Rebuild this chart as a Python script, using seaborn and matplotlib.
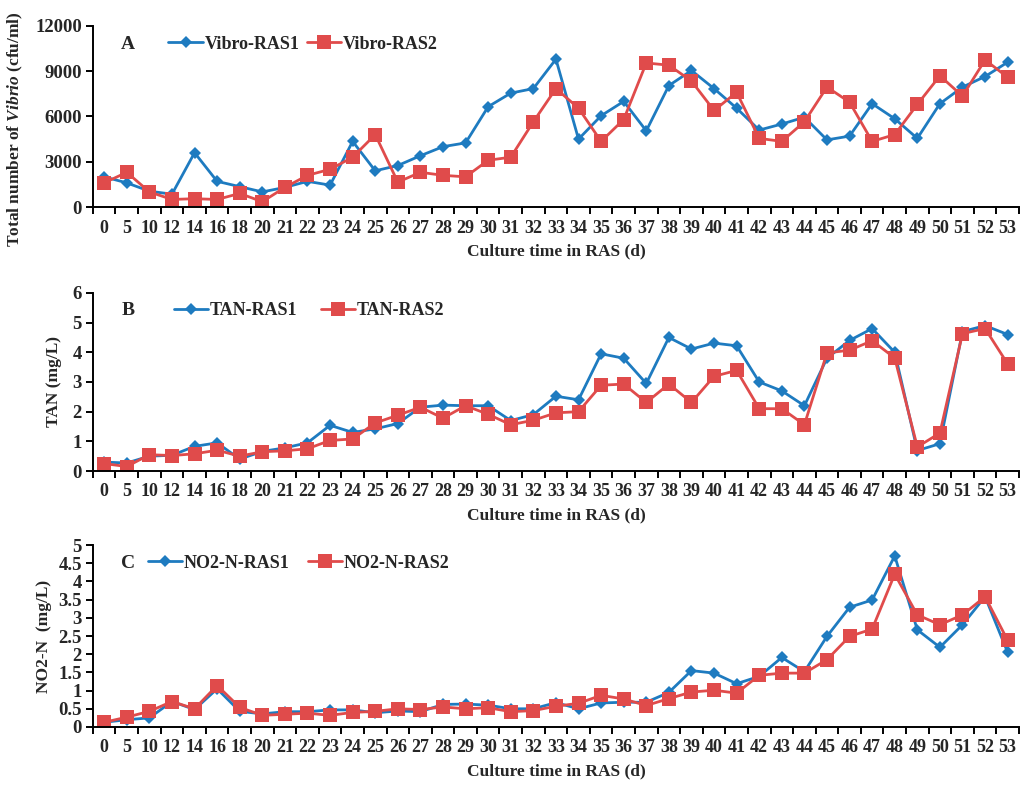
import numpy as np
import pandas as pd
import matplotlib
matplotlib.use("Agg")
import matplotlib.pyplot as plt
from matplotlib.ticker import FixedLocator, FuncFormatter
import seaborn as sns

# Sampling days (categorical axis)
days = ["0", "5", "10", "12", "14", "16", "18", "20", "21", "22", "23", "24", "25",
        "26", "27", "28", "29", "30", "31", "32", "33", "34", "35", "36", "37", "38",
        "39", "40", "41", "42", "43", "44", "45", "46", "47", "48", "49", "50", "51",
        "52", "53"]

# Total Vibrio counts (cfu/ml)
vibrio_ras1 = [2000, 1600, 1050, 850, 3600, 1700, 1350, 1000, 1300, 1700, 1450, 4350,
               2400, 2750, 3400, 4000, 4250, 6650, 7550, 7850, 9800, 4500, 6050, 7000,
               5050, 8050, 9050, 7850, 6550, 5100, 5500, 5950, 4450, 4700, 6850, 5850,
               4550, 6850, 7950, 8650, 9600]
vibrio_ras2 = [1600, 2300, 1000, 500, 550, 500, 900, 350, 1300, 2100, 2500, 3300,
               4800, 1650, 2300, 2100, 2000, 3100, 3300, 5650, 7850, 6550, 4350, 5800,
               9550, 9400, 8350, 6400, 7600, 4550, 4350, 5650, 7950, 6950, 4350, 4800,
               6800, 8700, 7350, 9750, 8600]

# Total ammonia nitrogen (mg/L)
tan_ras1 = [0.30, 0.27, 0.50, 0.53, 0.83, 0.95, 0.40, 0.66, 0.78, 0.95, 1.54, 1.30,
            1.42, 1.60, 2.15, 2.22, 2.20, 2.20, 1.70, 1.90, 2.52, 2.40, 3.95, 3.80,
            2.95, 4.50, 4.11, 4.31, 4.22, 3.00, 2.70, 2.20, 3.80, 4.40, 4.80, 4.00,
            0.69, 0.92, 4.70, 4.90, 4.60]
tan_ras2 = [0.25, 0.15, 0.55, 0.52, 0.58, 0.70, 0.50, 0.65, 0.68, 0.75, 1.03, 1.08,
            1.62, 1.88, 2.15, 1.78, 2.20, 1.91, 1.56, 1.71, 1.96, 2.00, 2.89, 2.93,
            2.31, 2.93, 2.31, 3.19, 3.39, 2.10, 2.10, 1.56, 3.98, 4.07, 4.39, 3.81,
            0.81, 1.28, 4.63, 4.80, 3.61]

# Nitrite nitrogen (mg/L)
no2_ras1 = [0.13, 0.20, 0.25, 0.70, 0.48, 1.05, 0.43, 0.36, 0.42, 0.42, 0.47, 0.47,
            0.39, 0.44, 0.42, 0.62, 0.63, 0.60, 0.50, 0.50, 0.67, 0.50, 0.66, 0.68,
            0.68, 0.95, 1.55, 1.48, 1.19, 1.39, 1.91, 1.52, 2.49, 3.29, 3.49, 4.70,
            2.67, 2.19, 2.81, 3.58, 2.05]
no2_ras2 = [0.13, 0.27, 0.43, 0.70, 0.50, 1.14, 0.54, 0.32, 0.35, 0.38, 0.32, 0.40,
            0.43, 0.50, 0.48, 0.55, 0.50, 0.53, 0.42, 0.45, 0.57, 0.65, 0.87, 0.77,
            0.59, 0.78, 0.96, 1.01, 0.93, 1.42, 1.48, 1.48, 1.85, 2.49, 2.69, 4.20,
            3.08, 2.81, 3.08, 3.58, 2.38]

panels = [
    dict(letter="A", s1=vibrio_ras1, s2=vibrio_ras2,
         names=("Vibro-RAS1", "Vibro-RAS2"),
         ylabel="Total number of $\\mathit{Vibrio}$ (cfu/ml)",
         ymax=12000, ystep=3000, ylab_x=-0.0735, ylab_y=0.43,
         leg_x=0.0815, colsp=0.4),
    dict(letter="B", s1=tan_ras1, s2=tan_ras2,
         names=("TAN-RAS1", "TAN-RAS2"),
         ylabel="TAN (mg/L)",
         ymax=6, ystep=1, ylab_x=-0.0335, ylab_y=0.5,
         leg_x=0.0875, colsp=1.3),
    dict(letter="C", s1=no2_ras1, s2=no2_ras2,
         names=("NO2-N-RAS1", "NO2-N-RAS2"),
         ylabel="NO2-N  (mg/L)",
         ymax=5, ystep=0.5, ylab_x=-0.044, ylab_y=0.5,
         leg_x=0.0595, colsp=1.0),
]

BLUE = "#1E7BC0"
RED = "#E04B4B"

sns.set_theme(style="ticks")
plt.rcParams["font.family"] = ["Liberation Serif", "DejaVu Serif"]
plt.rcParams["font.weight"] = "bold"
plt.rcParams["mathtext.fontset"] = "custom"
plt.rcParams["mathtext.rm"] = "Liberation Serif:bold"
plt.rcParams["mathtext.it"] = "Liberation Serif:italic:bold"
plt.rcParams["mathtext.bf"] = "Liberation Serif:bold"

fig = plt.figure(figsize=(10.21, 7.85), dpi=100)

boxes = [
    (0.091, 0.7363, 0.907, 0.2306),
    (0.091, 0.4000, 0.907, 0.2268),
    (0.091, 0.0739, 0.907, 0.2318),
]

pos = np.arange(len(days))

for box, p in zip(boxes, panels):
    ax = fig.add_axes(box)
    df = pd.DataFrame({"pos": pos, "v1": p["s1"], "v2": p["s2"]})
    sns.lineplot(data=df, x="pos", y="v1", ax=ax, color=BLUE, lw=2.0,
                 marker="D", markersize=6.5, markeredgewidth=0,
                 label=p["names"][0])
    sns.lineplot(data=df, x="pos", y="v2", ax=ax, color=RED, lw=2.0,
                 marker="s", markersize=9.5, markeredgewidth=0,
                 label=p["names"][1])

    ax.set_xlim(-0.5, len(days) - 0.5)
    ax.set_ylim(0, p["ymax"])
    ax.set_xticks(pos)
    ax.set_xticklabels(days)
    ax.xaxis.set_minor_locator(FixedLocator(np.arange(-0.5, len(days), 1.0)))
    ax.tick_params(axis="x", which="major", length=0, pad=9, labelsize=13)
    ax.tick_params(axis="x", which="minor", length=5, width=1.4, direction="out",
                   color="black")
    yt = np.arange(0, p["ymax"] + p["ystep"] / 2, p["ystep"])
    ax.set_yticks(yt)
    ax.yaxis.set_major_formatter(FuncFormatter(lambda v, _: f"{v:g}"))
    ax.tick_params(axis="y", length=5, width=1.4, direction="out",
                   labelsize=13.5, pad=3, color="black")
    for lab in ax.get_xticklabels() + ax.get_yticklabels():
        lab.set_fontweight("bold")

    sns.despine(ax=ax)
    for side in ("left", "bottom"):
        ax.spines[side].set_linewidth(1.4)
        ax.spines[side].set_color("black")

    ax.set_xlabel("Culture time in RAS (d)", fontsize=12.5, fontweight="bold",
                  labelpad=5)
    ax.set_ylabel(p["ylabel"], fontsize=12.5, fontweight="bold")
    ax.yaxis.set_label_coords(p["ylab_x"], p["ylab_y"])

    ax.text(0.038, 0.90, p["letter"], transform=ax.transAxes, fontsize=14,
            fontweight="bold", ha="center", va="center")

    leg = ax.legend(loc="center left", bbox_to_anchor=(p["leg_x"], 0.90),
                    ncol=2, frameon=False, fontsize=13, handlelength=1.9,
                    handletextpad=0.1, columnspacing=p["colsp"],
                    borderaxespad=0, borderpad=0)
    for t in leg.get_texts():
        t.set_fontweight("bold")

fig.savefig("out.png", dpi=100, facecolor="white")
